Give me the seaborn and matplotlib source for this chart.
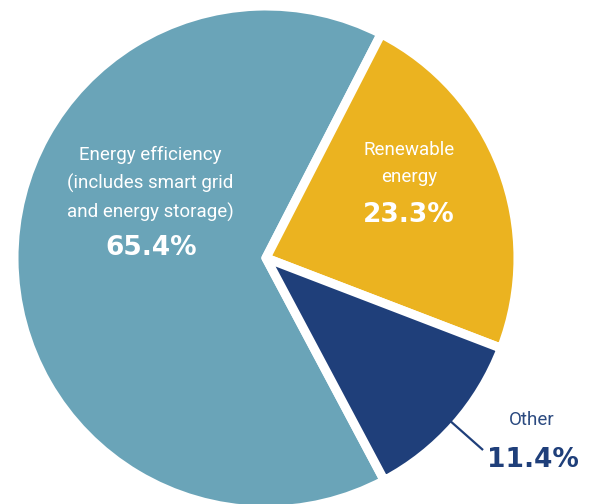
import matplotlib
matplotlib.use("Agg")
import matplotlib.pyplot as plt
import seaborn as sns
import numpy as np

categories = ["Energy efficiency\n(includes smart grid\nand energy storage)", "Renewable\nenergy", "Other"]
values = [65.4, 23.3, 11.4]
pct_labels = ["65.4%", "23.3%", "11.4%"]
colors = ["#6AA4B8", "#EBB320", "#1F3F7A"]

sns.set_theme(style="white")
plt.rcParams['font.family'] = ['Roboto', 'DejaVu Sans']

fig = plt.figure(figsize=(5.92, 5.04), dpi=100)
ax = fig.add_axes([0, 0, 1, 1])
wedges, _ = ax.pie(values, colors=colors, startangle=-62, counterclock=False,
                   radius=1.0, center=(0, 0),
                   wedgeprops=dict(edgecolor="white", linewidth=6.5, joinstyle='round'))
ax.set_xlim(-266 / 252, (592 - 266) / 252)
ax.set_ylim(-(504 - 258) / 252, 258 / 252)
ax.set_aspect('equal')
ax.axis('off')

label_font = dict(fontsize=13.5, fontweight='normal', color="white", ha="center", va="center")
pct_font = dict(fontsize=19, fontweight="bold", color="white", ha="center", va="center",
                family=['DejaVu Sans'])

# Energy efficiency
ax.text(-0.46, 0.293, categories[0], linespacing=1.65, **label_font)
ax.text(-0.456, 0.04, pct_labels[0], **pct_font)
# Renewable
ax.text(0.567, 0.375, categories[1], linespacing=1.65, **label_font)
ax.text(0.567, 0.17, pct_labels[1], **pct_font)
# Other (outside, with leader line)
w = wedges[2]
mid = np.deg2rad((w.theta1 + w.theta2) / 2)
r0, r1 = 0.95, 1.15
ax.plot([r0 * np.cos(mid), r1 * np.cos(mid)], [r0 * np.sin(mid), r1 * np.sin(mid)],
        color=colors[2], lw=1.6, solid_capstyle='butt')
ax.text(1.056, -0.643, categories[2], fontsize=13.5, color="#2B4A80",
        ha="center", va="center")
ax.text(1.06, -0.80, pct_labels[2], fontsize=19, fontweight="bold", color=colors[2],
        ha="center", va="center", family=['DejaVu Sans'])

fig.savefig("out.png", dpi=100, facecolor="white")
